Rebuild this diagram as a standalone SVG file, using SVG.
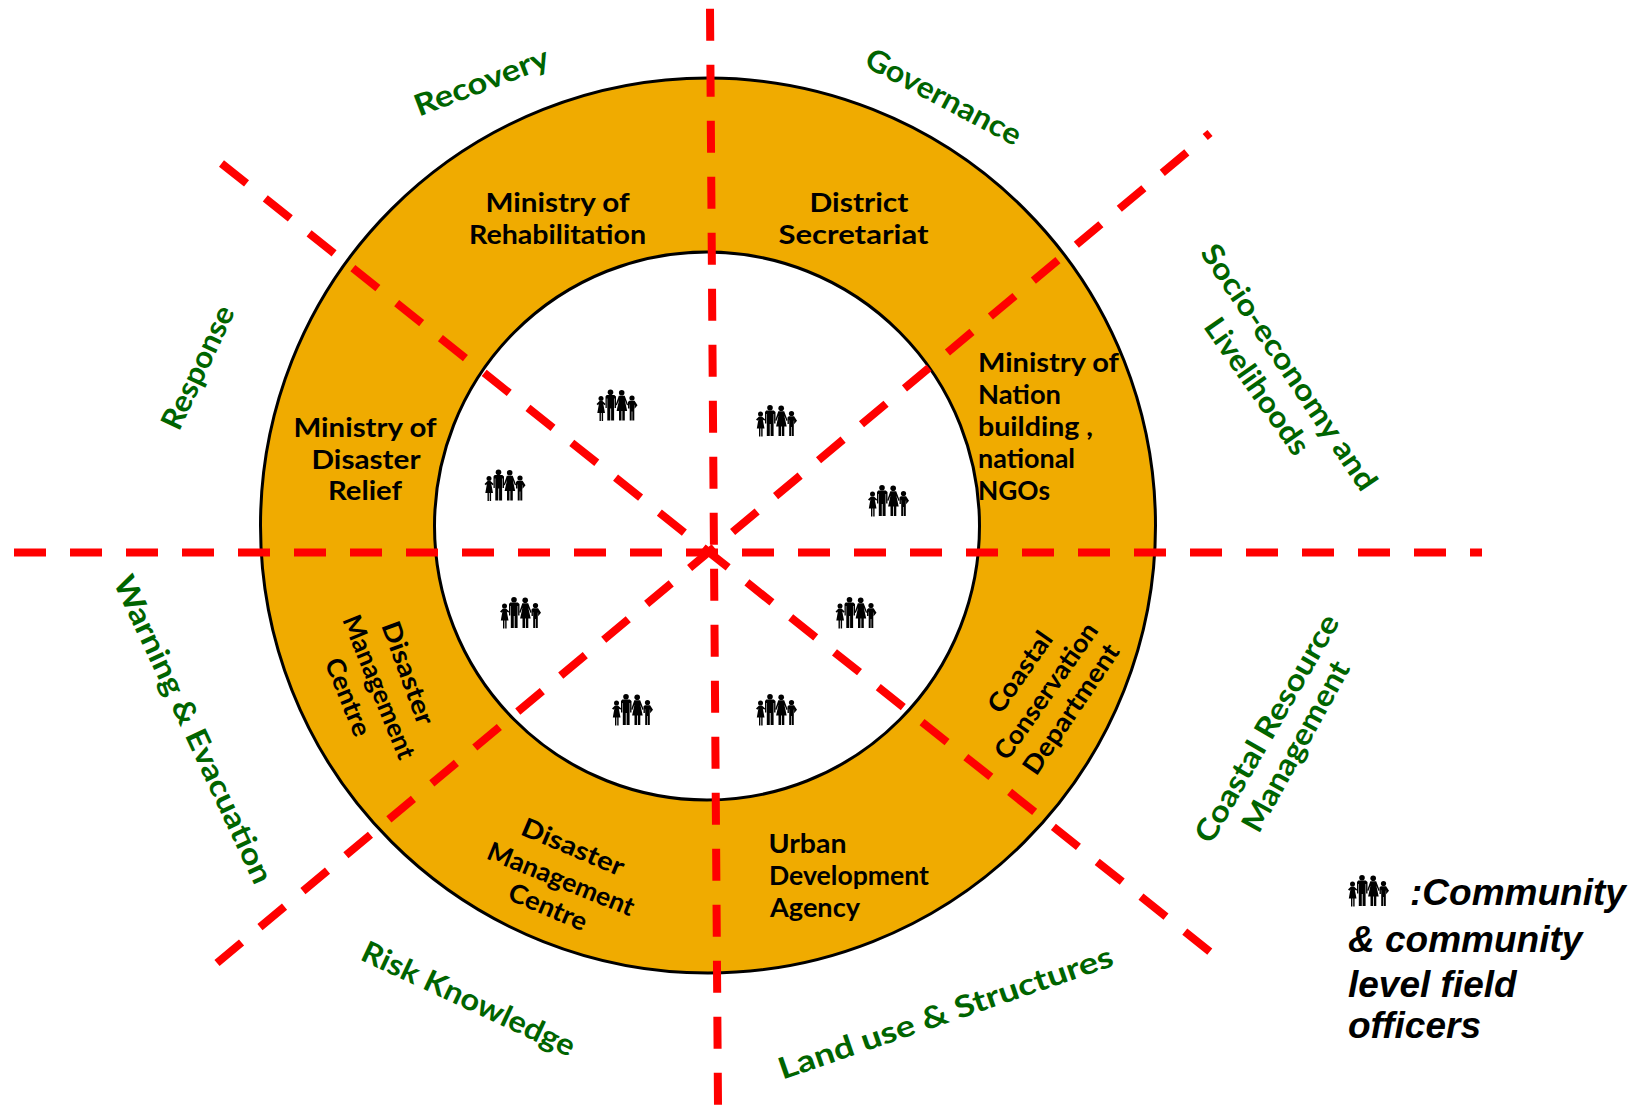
<svg xmlns="http://www.w3.org/2000/svg" width="1639" height="1105" viewBox="0 0 1639 1105">
<style>
.r{fill:#F0AB00;stroke:#000;stroke-width:3}
.i{fill:#fff;stroke:#000;stroke-width:3}
.d{stroke:#f00;stroke-width:8;stroke-dasharray:32 24;fill:none}
text{font-family:Lato,"Open Sans",sans-serif}
.b{font-size:26px;font-weight:700;fill:#000;text-anchor:middle}
.l{font-size:26px;font-weight:700;fill:#000;text-anchor:start}
.g{font-size:30px;font-weight:700;fill:#006400;text-anchor:middle}
.k{font-family:"Liberation Sans",Arial,sans-serif;font-size:37px;font-weight:700;font-style:italic;fill:#000}
</style>
<defs>
<g id="fam" fill="#000">
<circle cx="4.5" cy="9" r="2.5"/><path d="M3 11.5h3l3.200 3-1 1.200-1.400-1.200 1.700 9H6.600v8H5.200v-8H4.400v8H3v-8H.8l1.600-9-1 1.200-1.400-1.200z"/>
<circle cx="14" cy="2.800" r="2.800"/><path d="M10.200 5.600h7.600l1.700 1.500v11.400h-1.400V9h-.5v22h-3V19h-.8v12h-3V9h-.5v9.500H9V7z"/>
<circle cx="25.200" cy="3.200" r="2.800"/><path d="M22.300 6.200h5.900l3.400 9-1.100.7-2.200-5.500 2.400 11.100h-2.400V31h-2.500v-9.500h-.8V31h-2.500v-9.500h-2.400l2.400-11.100-2.200 5.500-1.100-.7z"/>
<circle cx="35.500" cy="8.500" r="2.600"/><path d="M32.800 11.200h5.300l2.900 4.500-2.900 3.500v-4.200l-.3 1V31h-2v-9h-.6v9h-2V15.500l-.3-1v4.500H31.500V12.500z"/>
</g>
</defs>
<g id="ring">
<circle class="r" cx="708" cy="525.500" r="447.500"/>
<ellipse class="i" cx="707" cy="526" rx="272.500" ry="274"/>
</g>
<g id="connectors">
<path class="d" d="M14 552.500H1482"/>
<path class="d" d="M710 8.700L718 1105"/>
<path class="d" d="M221.500 163.500L1211 952.500"/>
<path class="d" d="M217 963L1210 133"/>
</g>
<g id="community-icons">
<use href="#fam" x="596.500" y="389.500"/>
<use href="#fam" x="756" y="405"/>
<use href="#fam" x="868" y="485"/>
<use href="#fam" x="835.500" y="597"/>
<use href="#fam" x="756" y="694"/>
<use href="#fam" x="612" y="694"/>
<use href="#fam" x="500" y="597"/>
<use href="#fam" x="484.500" y="469.500"/>
</g>
<g id="node-rehabilitation"><text class="b" x="557.500" y="212" textLength="144" lengthAdjust="spacingAndGlyphs">Ministry of</text><text class="b" x="557.500" y="243.500" textLength="177" lengthAdjust="spacingAndGlyphs">Rehabilitation</text></g>
<g id="node-district"><text class="b" x="859" y="212" textLength="99" lengthAdjust="spacingAndGlyphs">District</text><text class="b" x="853.500" y="243.500" textLength="150" lengthAdjust="spacingAndGlyphs">Secretariat</text></g>
<g id="node-nation"><text class="l" x="978" y="372" textLength="141" lengthAdjust="spacingAndGlyphs">Ministry of</text><text class="l" x="978" y="404" textLength="83" lengthAdjust="spacingAndGlyphs">Nation</text><text class="l" x="978" y="436" textLength="115" lengthAdjust="spacingAndGlyphs">building ,</text><text class="l" x="978" y="468" textLength="97" lengthAdjust="spacingAndGlyphs">national</text><text class="l" x="978" y="500" textLength="72" lengthAdjust="spacingAndGlyphs">NGOs</text></g>
<g id="node-relief"><text class="b" x="365" y="437" textLength="143" lengthAdjust="spacingAndGlyphs">Ministry of</text><text class="b" x="366" y="468.500" textLength="109" lengthAdjust="spacingAndGlyphs">Disaster</text><text class="b" x="365" y="500" textLength="74" lengthAdjust="spacingAndGlyphs">Relief</text></g>
<g id="node-urban"><text class="l" x="768.500" y="853" textLength="78" lengthAdjust="spacingAndGlyphs">Urban</text><text class="l" x="769" y="885" textLength="160" lengthAdjust="spacingAndGlyphs">Development</text><text class="l" x="770" y="917" textLength="90" lengthAdjust="spacingAndGlyphs">Agency</text></g>
<g id="node-coastal"><text class="b" transform="translate(1020 672) rotate(-55)" y="9" textLength="93" lengthAdjust="spacingAndGlyphs">Coastal</text><text class="b" transform="translate(1046 691) rotate(-55)" y="9" textLength="160" lengthAdjust="spacingAndGlyphs">Conservation</text><text class="b" transform="translate(1071 709) rotate(-56)" y="9" textLength="151" lengthAdjust="spacingAndGlyphs">Department</text></g>
<g id="node-dmc-left"><text class="b" transform="translate(408 673) rotate(70)" y="9" textLength="108" lengthAdjust="spacingAndGlyphs">Disaster</text><text class="b" transform="translate(379 687) rotate(68)" y="9" textLength="153" lengthAdjust="spacingAndGlyphs">Management</text><text class="b" transform="translate(348 697) rotate(68)" y="9" textLength="82" lengthAdjust="spacingAndGlyphs">Centre</text></g>
<g id="node-dmc-bottom"><text class="b" transform="translate(573 847) rotate(23)" y="9" textLength="109" lengthAdjust="spacingAndGlyphs">Disaster</text><text class="b" transform="translate(561 879) rotate(22)" y="9" textLength="156" lengthAdjust="spacingAndGlyphs">Management</text><text class="b" transform="translate(548 907) rotate(23)" y="9" textLength="83" lengthAdjust="spacingAndGlyphs">Centre</text></g>
<g id="label-recovery"><text class="g" transform="translate(482 83) rotate(-21)" y="9" textLength="142" lengthAdjust="spacingAndGlyphs">Recovery</text></g>
<g id="label-governance"><text class="g" transform="translate(943 98) rotate(28)" y="9" textLength="172" lengthAdjust="spacingAndGlyphs">Governance</text></g>
<g id="label-socio"><text class="g" transform="translate(1288 368) rotate(56)" y="9" textLength="290" lengthAdjust="spacingAndGlyphs">Socio-economy and</text><text class="g" transform="translate(1256 387) rotate(55)" y="9" textLength="160" lengthAdjust="spacingAndGlyphs">Livelihoods</text></g>
<g id="label-coastal"><text class="g" transform="translate(1268 729) rotate(-60)" y="9" textLength="258" lengthAdjust="spacingAndGlyphs">Coastal Resource</text><text class="g" transform="translate(1297 747) rotate(-61)" y="9" textLength="190" lengthAdjust="spacingAndGlyphs">Management</text></g>
<g id="label-land"><text class="g" transform="translate(946 1014) rotate(-19)" y="9" textLength="352" lengthAdjust="spacingAndGlyphs">Land use &amp; Structures</text></g>
<g id="label-risk"><text class="g" transform="translate(468 1000) rotate(25)" y="9" textLength="232" lengthAdjust="spacingAndGlyphs">Risk Knowledge</text></g>
<g id="label-warning"><text class="g" transform="translate(192 730) rotate(65)" y="9" textLength="336" lengthAdjust="spacingAndGlyphs">Warning &amp; Evacuation</text></g>
<g id="label-response"><text class="g" transform="translate(199 368) rotate(-65)" y="9" textLength="133" lengthAdjust="spacingAndGlyphs">Response</text></g>
<g id="legend">
<use href="#fam" x="1348" y="875"/>
<text class="k" x="1410" y="905">:Community</text>
<text class="k" x="1348" y="952">&amp; community</text>
<text class="k" x="1348" y="997">level field</text>
<text class="k" x="1348" y="1038">officers</text>
</g>
</svg>
